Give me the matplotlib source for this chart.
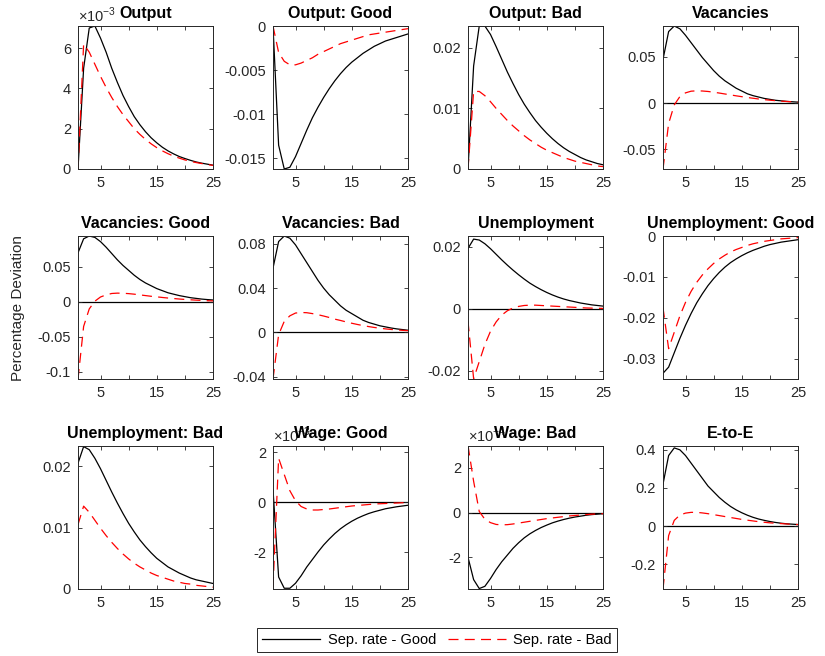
import numpy as np
import matplotlib.pyplot as plt

plt.rcParams['font.family'] = ['Liberation Sans', 'DejaVu Sans']
plt.rcParams['mathtext.fontset'] = 'custom'
plt.rcParams['mathtext.rm'] = 'Liberation Sans'

periods = np.arange(1, 26)

titles = ['Output', 'Output: Good', 'Output: Bad', 'Vacancies',
          'Vacancies: Good', 'Vacancies: Bad', 'Unemployment', 'Unemployment: Good',
          'Unemployment: Bad', 'Wage: Good', 'Wage: Bad', 'E-to-E']

# sep. rate shock in the good state (black)
good_resp = [
    [0, 5.0e-3, 7.0e-3, 7.1e-3, 6.5e-3, 5.8e-3, 5.0e-3, 4.3e-3, 3.65e-3, 3.1e-3, 2.6e-3, 2.2e-3, 1.85e-3,
     1.55e-3, 1.3e-3, 1.08e-3, 0.9e-3, 0.75e-3, 0.62e-3, 0.52e-3, 0.43e-3, 0.35e-3, 0.29e-3, 0.24e-3, 0.19e-3],
    [0, -0.0135, -0.0162, -0.0160, -0.0148, -0.0133, -0.0118, -0.0104, -0.0092, -0.0081, -0.0071, -0.0062,
     -0.0054, -0.0047, -0.0041, -0.0036, -0.0031, -0.0027, -0.0023, -0.0020, -0.0017, -0.0015, -0.0013,
     -0.0011, -0.0009],
    [0, 0.017, 0.0236, 0.0236, 0.0222, 0.0202, 0.0181, 0.0160, 0.0141, 0.0123, 0.0107, 0.0093, 0.0080,
     0.0069, 0.0059, 0.0050, 0.0042, 0.0035, 0.0029, 0.0024, 0.0019, 0.0015, 0.0012, 0.0009, 0.0007],
    [0.047, 0.077, 0.083, 0.080, 0.073, 0.065, 0.057, 0.049, 0.042, 0.035, 0.029, 0.024, 0.020, 0.016,
     0.013, 0.010, 0.008, 0.0065, 0.005, 0.004, 0.003, 0.0024, 0.0018, 0.0014, 0.001],
    [0.07, 0.09, 0.094, 0.092, 0.086, 0.078, 0.069, 0.060, 0.052, 0.045, 0.038, 0.032, 0.027, 0.023,
     0.019, 0.016, 0.013, 0.011, 0.009, 0.0075, 0.006, 0.005, 0.004, 0.0033, 0.0027],
    [0.058, 0.082, 0.087, 0.085, 0.079, 0.071, 0.063, 0.055, 0.047, 0.040, 0.034, 0.029, 0.024, 0.020,
     0.017, 0.014, 0.011, 0.009, 0.0075, 0.006, 0.005, 0.004, 0.0032, 0.0026, 0.002],
    [0.0195, 0.0225, 0.0222, 0.0210, 0.0194, 0.0176, 0.0158, 0.0141, 0.0125, 0.0110, 0.0096, 0.0083,
     0.0072, 0.0062, 0.0053, 0.0045, 0.0038, 0.0032, 0.0027, 0.0023, 0.0019, 0.0016, 0.0013, 0.0011, 0.0009],
    [-0.0335, -0.0320, -0.0285, -0.0250, -0.0218, -0.0189, -0.0163, -0.0141, -0.0121, -0.0104, -0.0089,
     -0.0076, -0.0065, -0.0056, -0.0048, -0.0041, -0.0035, -0.0030, -0.0025, -0.0021, -0.0018, -0.0015,
     -0.0013, -0.0011, -0.0009],
    [0.0205, 0.0232, 0.0227, 0.0213, 0.0196, 0.0177, 0.0158, 0.0140, 0.0123, 0.0107, 0.0093, 0.0080,
     0.0069, 0.0059, 0.0050, 0.0043, 0.0036, 0.0031, 0.0026, 0.0022, 0.0018, 0.0015, 0.0013, 0.0011, 0.0009],
    [0.5e-3, -3.0e-3, -3.45e-3, -3.45e-3, -3.25e-3, -2.95e-3, -2.6e-3, -2.3e-3, -2.0e-3, -1.72e-3, -1.48e-3,
     -1.26e-3, -1.07e-3, -0.91e-3, -0.77e-3, -0.65e-3, -0.55e-3, -0.46e-3, -0.39e-3, -0.33e-3, -0.27e-3,
     -0.23e-3, -0.19e-3, -0.16e-3, -0.13e-3],
    [-2.0e-4, -3.0e-4, -3.4e-4, -3.3e-4, -2.95e-4, -2.55e-4, -2.2e-4, -1.9e-4, -1.6e-4, -1.35e-4, -1.13e-4,
     -0.95e-4, -0.8e-4, -0.67e-4, -0.56e-4, -0.46e-4, -0.38e-4, -0.31e-4, -0.25e-4, -0.2e-4, -0.16e-4,
     -0.12e-4, -0.09e-4, -0.07e-4, -0.05e-4],
    [0.22, 0.37, 0.41, 0.40, 0.37, 0.33, 0.29, 0.25, 0.21, 0.18, 0.15, 0.125, 0.103, 0.085, 0.07, 0.057,
     0.046, 0.037, 0.03, 0.024, 0.019, 0.015, 0.012, 0.01, 0.008],
]

# sep. rate shock in the bad state (red dashed)
bad_resp = [
    [0, 6.2e-3, 5.8e-3, 5.2e-3, 4.6e-3, 4.05e-3, 3.55e-3, 3.1e-3, 2.7e-3, 2.35e-3, 2.0e-3, 1.72e-3, 1.47e-3,
     1.25e-3, 1.06e-3, 0.9e-3, 0.76e-3, 0.64e-3, 0.54e-3, 0.45e-3, 0.38e-3, 0.32e-3, 0.27e-3, 0.22e-3, 0.18e-3],
    [0, -0.0030, -0.0040, -0.0044, -0.0044, -0.0042, -0.0039, -0.0036, -0.0032, -0.0029, -0.0026, -0.0023,
     -0.0020, -0.0018, -0.0016, -0.0014, -0.0012, -0.0010, -0.0009, -0.0008, -0.0007, -0.0006, -0.0005,
     -0.0004, -0.0003],
    [0, 0.0128, 0.0128, 0.0121, 0.0111, 0.0100, 0.0090, 0.0080, 0.0071, 0.0063, 0.0055, 0.0048, 0.0042,
     0.0036, 0.0031, 0.0027, 0.0023, 0.0019, 0.0016, 0.0013, 0.0011, 0.0009, 0.0007, 0.0005, 0.0004],
    [-0.071, -0.022, -0.002, 0.007, 0.011, 0.0128, 0.0132, 0.0130, 0.0125, 0.0117, 0.0108, 0.0098, 0.0088,
     0.0078, 0.0069, 0.0060, 0.0052, 0.0044, 0.0037, 0.0031, 0.0026, 0.0021, 0.0017, 0.0014, 0.0011],
    [-0.11, -0.035, -0.01, 0.001, 0.007, 0.010, 0.012, 0.0125, 0.0123, 0.0118, 0.011, 0.010, 0.009, 0.008,
     0.0072, 0.0063, 0.0055, 0.0048, 0.0041, 0.0035, 0.003, 0.0025, 0.0021, 0.0017, 0.0014],
    [-0.042, -0.002, 0.010, 0.015, 0.0175, 0.018, 0.0178, 0.017, 0.016, 0.0148, 0.0135, 0.012, 0.0108,
     0.0095, 0.0083, 0.0072, 0.0062, 0.0053, 0.0045, 0.0038, 0.0032, 0.0027, 0.0023, 0.0019, 0.0016],
    [-0.004, -0.0225, -0.017, -0.0115, -0.0072, -0.0042, -0.0020, -0.0006, 0.0003, 0.0008, 0.0011, 0.0012,
     0.0012, 0.0011, 0.0010, 0.0009, 0.0008, 0.0007, 0.0006, 0.0005, 0.0004, 0.0003, 0.00025, 0.0002, 0.00015],
    [-0.0175, -0.0275, -0.0235, -0.0195, -0.0162, -0.0135, -0.0113, -0.0095, -0.0080, -0.0067, -0.0056,
     -0.0047, -0.0039, -0.0033, -0.0028, -0.0023, -0.0019, -0.0016, -0.0013, -0.0011, -0.0009, -0.0007,
     -0.0006, -0.0005, -0.0004],
    [0.0105, 0.0135, 0.0125, 0.0112, 0.0099, 0.0087, 0.0076, 0.0066, 0.0057, 0.0049, 0.0042, 0.0036,
     0.0031, 0.0026, 0.0022, 0.0019, 0.0016, 0.0013, 0.0011, 0.0009, 0.0008, 0.0006, 0.0005, 0.0004, 0.0003],
    [-3.4e-3, 1.75e-3, 1.1e-3, 0.45e-3, 0.05e-3, -0.18e-3, -0.28e-3, -0.32e-3, -0.32e-3, -0.30e-3, -0.28e-3,
     -0.25e-3, -0.22e-3, -0.19e-3, -0.16e-3, -0.14e-3, -0.12e-3, -0.10e-3, -0.08e-3, -0.07e-3, -0.06e-3,
     -0.05e-3, -0.04e-3, -0.03e-3, -0.025e-3],
    [3.0e-4, 1.4e-4, 0.05e-4, -0.3e-4, -0.45e-4, -0.53e-4, -0.55e-4, -0.54e-4, -0.51e-4, -0.47e-4, -0.43e-4,
     -0.39e-4, -0.35e-4, -0.31e-4, -0.27e-4, -0.24e-4, -0.21e-4, -0.18e-4, -0.15e-4, -0.13e-4, -0.11e-4,
     -0.09e-4, -0.07e-4, -0.06e-4, -0.05e-4],
    [-0.33, -0.05, 0.03, 0.058, 0.068, 0.072, 0.072, 0.069, 0.065, 0.06, 0.055, 0.05, 0.045, 0.04, 0.035,
     0.031, 0.027, 0.023, 0.02, 0.017, 0.015, 0.013, 0.011, 0.009, 0.008],
]

# axis settings (in plotted units)
scale_exp = [-3, 0, 0, 0, 0, 0, 0, 0, 0, -3, -4, 0]
ylims = [(0, 7.1), (-0.0162, 0), (0, 0.0236), (-0.071, 0.083),
         (-0.11, 0.094), (-0.042, 0.087), (-0.0226, 0.0235), (-0.0349, 0),
         (0, 0.0233), (-3.48, 2.24), (-3.42, 2.98), (-0.33, 0.42)]
yticks = [[0, 2, 4, 6], [-0.015, -0.01, -0.005, 0], [0, 0.01, 0.02], [-0.05, 0, 0.05],
          [-0.1, -0.05, 0, 0.05], [-0.04, 0, 0.04, 0.08], [-0.02, 0, 0.02], [-0.03, -0.02, -0.01, 0],
          [0, 0.01, 0.02], [-2, 0, 2], [-2, 0, 2], [-0.2, 0, 0.2, 0.4]]
zero_line = [False, False, False, True, True, True, True, False, False, True, True, True]

W, H = 825, 656
fig = plt.figure(figsize=(W / 100, H / 100), dpi=100)
lefts = [78, 273, 468, 663]
tops = [26, 236, 446]
aw, ah = 135, 143
gray = '#262626'

for i in range(12):
    r, c = divmod(i, 4)
    ax = fig.add_axes([lefts[c] / W, 1 - (tops[r] + ah) / H, aw / W, ah / H])
    s = 10.0 ** scale_exp[i]
    if zero_line[i]:
        ax.axhline(0, color='black', lw=0.9, zorder=1)
    l1, = ax.plot(periods, np.array(good_resp[i]) / s, color='black', lw=0.9, label='Sep. rate - Good')
    l2, = ax.plot(periods, np.array(bad_resp[i]) / s, color='red', lw=0.9, dashes=(8, 5),
                  label='Sep. rate - Bad')
    ax.set_xlim(1, 25)
    ax.set_ylim(*ylims[i])
    ax.set_xticks([5, 10, 15, 20, 25])
    ax.set_xticklabels(['5', '', '15', '', '25'])
    ax.set_yticks(yticks[i])
    ax.set_yticklabels([f'{v:g}' for v in yticks[i]])
    ax.tick_params(direction='in', length=3, width=0.6, top=True, right=True,
                   labelsize=10.5, colors=gray, pad=5)
    for sp in ax.spines.values():
        sp.set_linewidth(0.7)
        sp.set_color(gray)
    ax.set_title(titles[i], fontsize=11.5, fontweight='bold', pad=6)
    if scale_exp[i] != 0:
        ax.text(0, 1.005, r'$\times10^{%d}$' % scale_exp[i], transform=ax.transAxes,
                ha='left', va='bottom', fontsize=10.5, color=gray, zorder=0)

fig.text(18 / W, 1 - 308 / H, 'Percentage Deviation', rotation=90, ha='center', va='center',
         fontsize=11, color=gray)

leg = fig.legend([l1, l2], ['Sep. rate - Good', 'Sep. rate - Bad'], ncol=2, loc='center',
                 bbox_to_anchor=(437 / W, 1 - 640 / H), frameon=True, fancybox=False,
                 edgecolor=gray, framealpha=1, fontsize=10.5, handlelength=4.0,
                 columnspacing=0.8, handletextpad=0.5, borderpad=0.35)
leg.get_frame().set_linewidth(0.7)

fig.savefig('out.png', dpi=100)
